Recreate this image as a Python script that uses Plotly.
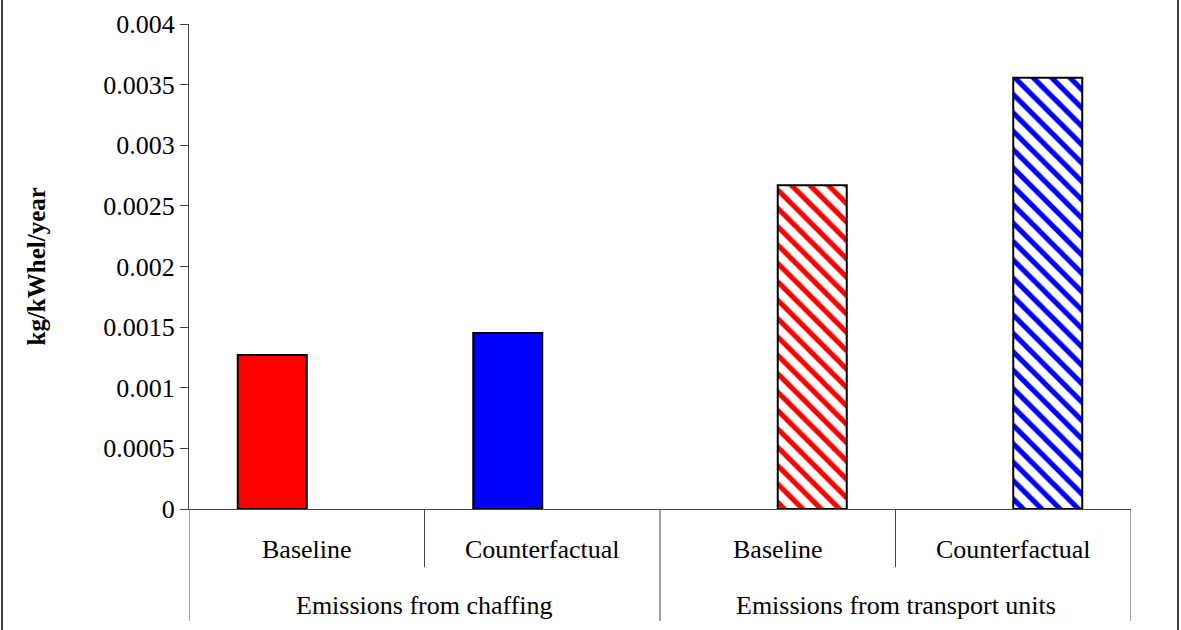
import plotly.graph_objects as go

subcategories = ["Baseline", "Counterfactual", "Baseline", "Counterfactual"]
groups = ["Emissions from chaffing", "Emissions from transport units"]
chaffing_values = [0.00127, 0.001452, None, None]
transport_values = [None, None, 0.00267, 0.003557]
bar_colors = ["#ff0000", "#0000ff", "#ff0000", "#0000ff"]
y_ticks = [0, 0.0005, 0.001, 0.0015, 0.002, 0.0025, 0.003, 0.0035, 0.004]
y_tick_labels = ["0", "0.0005", "0.001", "0.0015", "0.002", "0.0025", "0.003", "0.0035", "0.004"]
y_title = "kg/kWhel/year"

xs = list(range(len(subcategories)))
FONT = "Liberation Serif"
FS = 26

fig = go.Figure()
fig.add_trace(go.Bar(
    x=xs, y=chaffing_values,
    marker=dict(color=bar_colors, line=dict(color="black", width=2)),
    showlegend=False,
))
fig.add_trace(go.Bar(
    x=xs, y=transport_values,
    marker=dict(color="white", line=dict(color="black", width=2),
                pattern=dict(shape="\\", fgcolor=bar_colors, bgcolor="white",
                             size=13, solidity=0.4, fillmode="replace")),
    showlegend=False,
))

shapes = []
for xd in [0.5, 2.5]:
    shapes.append(dict(type="line", xref="x", yref="paper", x0=xd, x1=xd,
                       y0=0, y1=-58/485, line=dict(color="#444", width=1)))
for xd in [-0.5, 1.5, 3.5]:
    shapes.append(dict(type="line", xref="x", yref="paper", x0=xd, x1=xd,
                       y0=0, y1=-112/485, line=dict(color="#444", width=1)))
for xp in [-187/942, 989/942]:
    shapes.append(dict(type="line", xref="paper", yref="paper", x0=xp, x1=xp,
                       y0=-1, y1=2, line=dict(color="black", width=1.5)))

annotations = []
for i, lab in enumerate(subcategories):
    annotations.append(dict(x=i, y=-40/485, xref="x", yref="paper", text=lab,
                            xanchor="center", yanchor="middle",
                            showarrow=False, font=dict(family=FONT, size=FS, color="black")))
for j, g in enumerate(groups):
    annotations.append(dict(x=2 * j + 0.5, y=-96/485, xref="x", yref="paper", text=g,
                            xanchor="center", yanchor="middle",
                            showarrow=False, font=dict(family=FONT, size=FS, color="black")))
annotations.append(dict(x=-153/942, y=0.5, xref="paper", yref="paper",
                        text="<b>" + y_title + "</b>", textangle=-90,
                        xanchor="center", yanchor="middle", showarrow=False,
                        font=dict(family=FONT, size=25, color="black")))

fig.update_layout(
    width=1181, height=630,
    margin=dict(l=189, r=50, t=24, b=121),
    paper_bgcolor="white", plot_bgcolor="white",
    barmode="group", bargap=0.414, bargroupgap=0,
    font=dict(family=FONT, size=FS, color="black"),
    shapes=shapes, annotations=annotations,
    xaxis=dict(range=[-0.5, 3.5], showticklabels=False, ticks="", showgrid=False,
               zeroline=False, showline=True, linecolor="#444", linewidth=1,
               automargin=False),
    yaxis=dict(range=[0, 0.004], tickvals=y_ticks, ticktext=y_tick_labels,
               ticks="outside", ticklen=8, tickcolor="#444", showgrid=False,
               zeroline=False, showline=True, linecolor="#444", linewidth=1,
               tickfont=dict(family=FONT, size=FS, color="black"),
               automargin=False),
)
fig.write_html("out.html", config={"displayModeBar": False},
               post_script="document.body.style.margin='0';")
